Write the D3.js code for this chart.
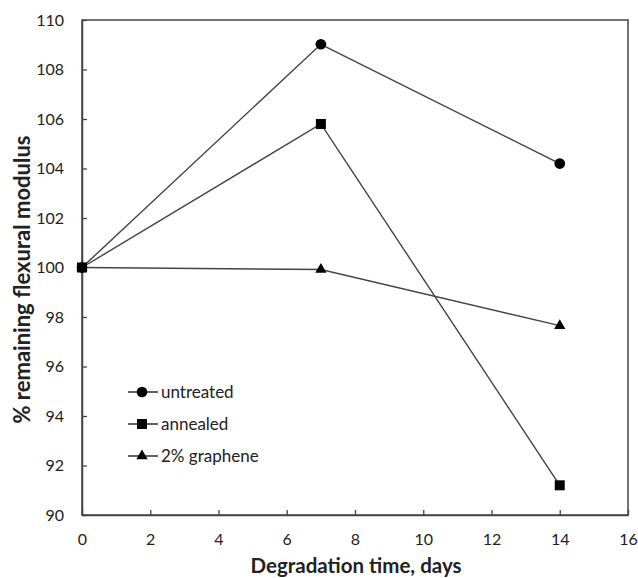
<!DOCTYPE html>
<html>
<head>
<meta charset="utf-8">
<script src="https://cdn.jsdelivr.net/npm/d3@7"></script>
<style>
  body { margin: 0; background: #fff; }
  .chart text { font-family: Lato, "Open Sans", sans-serif; fill: #222; }
</style>
</head>
<body>
<div class="chart"></div>
<script>
// data
const days = [0, 7, 14];
const untreated = [100, 109.02, 104.2];
const annealed = [100, 105.8, 91.2];
const graphene = [100, 99.92, 97.65];
const seriesNames = ["untreated", "annealed", "2% graphene"];
const xTicks = [0, 2, 4, 6, 8, 10, 12, 14, 16];
const yTicks = [90, 92, 94, 96, 98, 100, 102, 104, 106, 108, 110];

// margin
const margin = {top: 20, right: 10, bottom: 62, left: 82};

let svg = d3.select(".chart")
    .append("svg")
    .attr("width", 638)
    .attr("height", 578)
    .append("g")
    .attr("transform", "translate(" + margin.left + "," + margin.top + ")");

let xScale = d3.scaleLinear().domain([0, 16]).range([0, 546]);
let yScale = d3.scaleLinear().domain([90, 110]).range([495, 0]);

// frame
svg.append("rect")
    .attr("x", 0).attr("y", 0)
    .attr("width", xScale(16)).attr("height", yScale(90))
    .attr("fill", "none").attr("stroke", "#444").attr("stroke-width", 1.5);

// axes, ticks pointing inward
let xAxis = svg.append("g")
    .attr("transform", "translate(0," + yScale(90) + ")")
    .call(d3.axisBottom(xScale).tickValues(xTicks).tickSizeInner(-5).tickSizeOuter(0).tickPadding(19));
let yAxis = svg.append("g")
    .call(d3.axisLeft(yScale).tickValues(yTicks).tickSizeInner(-5).tickSizeOuter(0).tickPadding(18));

[xAxis, yAxis].forEach(a => {
    a.select(".domain").attr("stroke", "#444").attr("stroke-width", 1.5);
    a.selectAll(".tick line").attr("stroke", "#444").attr("stroke-width", 1.3);
    a.selectAll(".tick text").attr("font-size", 16).attr("fill", "#222")
        .style("font-family", "Lato, 'Open Sans', sans-serif");
});

// axis titles
svg.append("text")
    .attr("x", xScale(8) + 1)
    .attr("y", yScale(90) + 58)
    .attr("text-anchor", "middle")
    .attr("font-size", 20.5).attr("font-weight", "bold")
    .text("Degradation time, days");

svg.append("text")
    .attr("transform", "translate(" + (-52) + "," + (yScale(100) + 12) + ") rotate(-90)")
    .attr("text-anchor", "middle")
    .attr("font-size", 22).attr("font-weight", "bold")
    .text("% remaining flexural modulus");

// lines + markers
let line = d3.line().x((d, i) => xScale(days[i])).y(d => yScale(d));
let allSeries = [untreated, annealed, graphene];
let symbols = [d3.symbolCircle, d3.symbolSquare, d3.symbolTriangle];
let symSizes = [90, 100, 55];

allSeries.forEach(s => {
    svg.append("path")
        .datum(s)
        .attr("d", line)
        .attr("fill", "none")
        .attr("stroke", "#444")
        .attr("stroke-width", 1.4);
});

allSeries.forEach((s, k) => {
    svg.selectAll(".pt" + k)
        .data(s)
        .enter()
        .append("path")
        .attr("class", "pt" + k)
        .attr("transform", (d, i) => "translate(" + xScale(days[i]) + "," + yScale(d) + ")")
        .attr("d", d3.symbol().type(symbols[k]).size(symSizes[k]))
        .attr("fill", "#000");
});

// legend
let legend = svg.append("g").attr("transform", "translate(46," + 372 + ")");
seriesNames.forEach((name, k) => {
    let g = legend.append("g").attr("transform", "translate(0," + (k * 32) + ")");
    g.append("line").attr("x1", 0).attr("x2", 30).attr("y1", 0).attr("y2", 0)
        .attr("stroke", "#222").attr("stroke-width", 1.4);
    g.append("path")
        .attr("transform", "translate(14,0)")
        .attr("d", d3.symbol().type(symbols[k]).size(symSizes[k]))
        .attr("fill", "#000");
    g.append("text")
        .attr("x", 33).attr("y", 6)
        .attr("font-size", 17)
        .text(name);
});
</script>
</body>
</html>
